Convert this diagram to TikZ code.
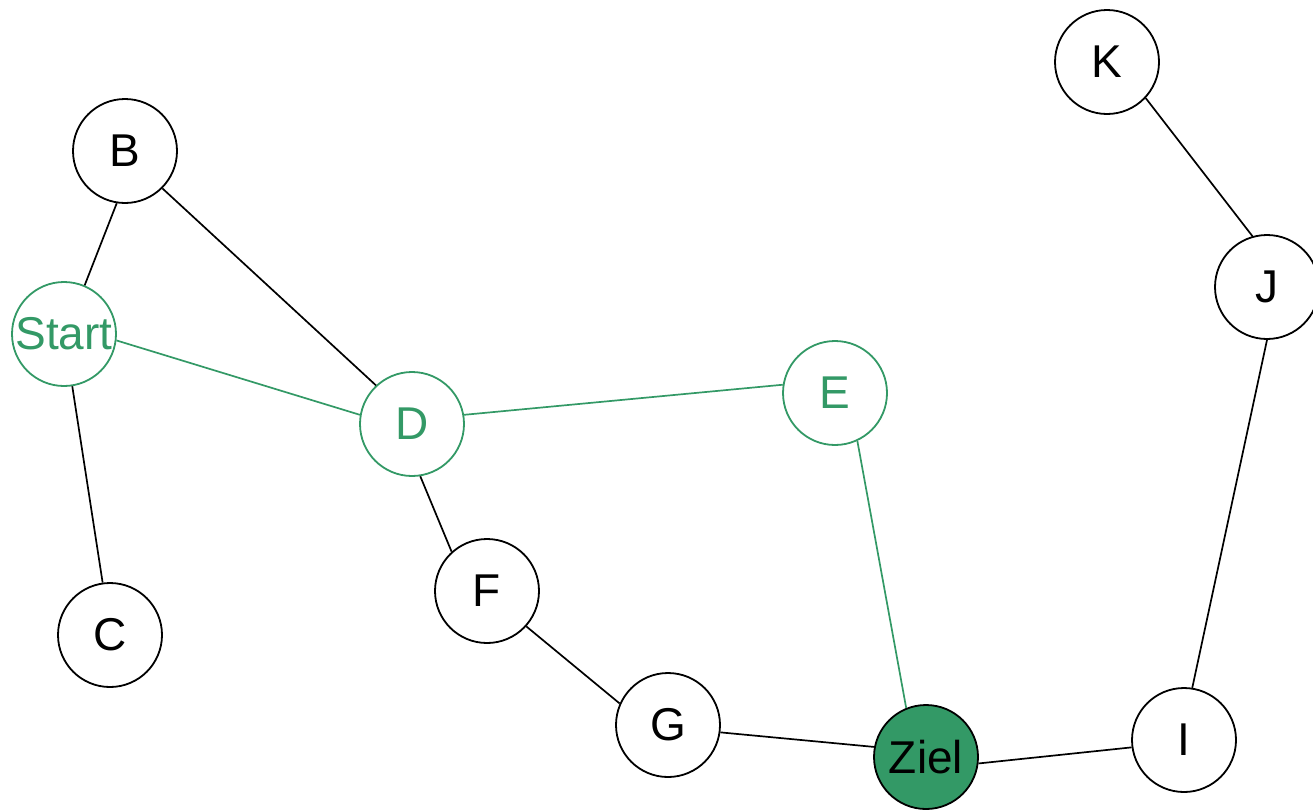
\documentclass[tikz,border=0pt]{standalone}
\usepackage{fontspec}
\setmainfont{Liberation Sans}
\usepackage{xcolor}
\usepackage{tikz}
\usetikzlibrary{positioning}

\definecolor{pathgreen}{RGB}{51,153,102}

\tikzset{
    knoten/.style={circle, draw=black, line width=1.8pt, minimum size=104pt, inner sep=0pt,
        font=\fontsize{46}{50}\selectfont},
    pfad/.style={knoten, draw=pathgreen, text=pathgreen},
    ziel/.style={knoten, fill=pathgreen},
    kante/.style={line width=1.7pt},
    pfadkante/.style={kante, draw=pathgreen}
}

\begin{document}
\begin{tikzpicture}[x=1pt,y=-1pt]
    \useasboundingbox (0,0) rectangle (1313,809);
    \begin{scope}
        \clip (0,0) rectangle (1313,809);

        \node[knoten] (K) at (1107, 62) {K};
        \node[knoten] (B) at (125,151) {B};
        \node[knoten] (J) at (1267,287) {J};
        \node[pfad]   (Start) at (64,334) {Start};
        \node[pfad]   (D) at (412,424) {D};
        \node[pfad]   (E) at (835,393) {E};
        \node[knoten] (F) at (487,591) {F};
        \node[knoten] (C) at (110,635) {C};
        \node[knoten] (G) at (668,725) {G};
        \node[ziel]   (Ziel) at (926,757) {Ziel};
        \node[knoten] (I) at (1184,740) {I};

        % ordinary edges
        \draw[kante] (K.-43) -- (J.106);
        \draw[kante] (J.-90) -- (I.81);
        \draw[kante] (I.188) -- (Ziel.-7);
        \draw[kante] (Ziel.169) -- (G.-8);
        \draw[kante] (G.156) -- (F.-42);
        \draw[kante] (F.132) -- (D.-81);
        \draw[kante] (D.133) -- (B.-45);
        \draw[kante] (B.-99) -- (Start.67);
        \draw[kante] (Start.-81) -- (C.98);

        % shortest path
        \draw[pfadkante] (Start.-7) -- (D.170);
        \draw[pfadkante] (D.10) -- (E.171);
        \draw[pfadkante] (E.-65) -- (Ziel.112);
    \end{scope}
\end{tikzpicture}
\end{document}
